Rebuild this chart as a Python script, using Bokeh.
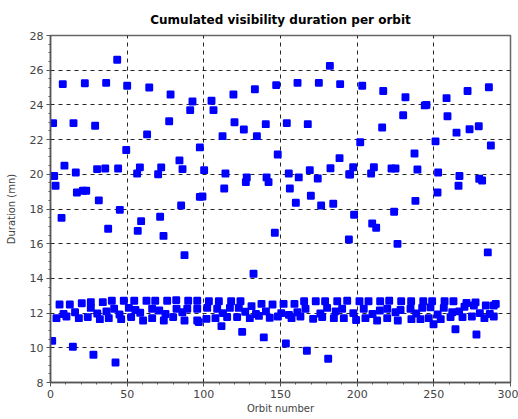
from bokeh.plotting import figure
from bokeh.models import SingleIntervalTicker, Range1d
from bokeh.embed import file_html
from bokeh.resources import INLINE

# Orbits with a long cumulated visibility (above the main band)
high_orbit = [43.5, 8.0, 22.4, 36.3, 50.0, 64.4, 78.3, 92.6, 91.1, 1.7, 15.0, 29.1, 77.4, 63.0,
              97.4, 49.4, 84.1, 86.1, 9.1, 16.5, 2.4, 30.4, 35.7, 44.1, 56.5, 58.3, 70.2, 72.2,
              3.3, 17.2, 21.1, 23.3, 31.5, 85.2, 97.4,
              182.2, 105.0, 106.3, 119.3, 133.3, 147.2, 161.1, 175.0, 188.9, 120.0, 126.1,
              140.4, 134.6, 112.2, 154.1, 167.8, 148.2, 188.5, 182.6, 100.2, 114.1, 128.0,
              127.4, 140.9, 142.2, 155.4, 161.9, 169.1, 174.3, 194.8, 113.3, 156.1, 99.1,
              160.0, 169.8, 176.5, 184.4,
              203.3, 217.0, 231.5, 244.1, 245.2, 258.3, 272.0, 285.9, 230.0, 258.9, 216.3,
              264.8, 273.3, 279.3, 202.0, 251.1, 287.2, 237.4, 197.4, 195.4, 210.9, 209.1,
              222.4, 225.0, 239.3, 252.8, 266.7, 279.6, 281.5, 266.1, 252.4, 238.0,
              7.2, 45.2, 37.6, 59.1, 56.9, 71.5, 73.7, 87.4, 146.3, 132.4, 194.6,
              198.0, 209.8, 212.4, 224.1, 226.3, 285.2]
high_duration = [26.6, 25.2, 25.25, 25.27, 25.1, 25.0, 24.6, 24.2, 23.7, 22.95, 22.95, 22.8, 23.06, 22.3,
                 21.55, 21.4, 20.8, 20.3, 20.5, 20.1, 19.9, 20.3, 20.33, 20.33, 20.05, 20.4, 20.0, 20.4,
                 19.34, 18.95, 19.05, 19.05, 18.5, 18.2, 18.7,
                 26.25, 24.24, 23.7, 24.6, 24.9, 25.14, 25.27, 25.27, 25.2, 23.0, 22.58,
                 22.89, 22.2, 22.2, 22.95, 22.89, 21.14, 20.93, 20.35, 20.24, 20.05, 19.82,
                 19.55, 19.82, 19.55, 20.05, 19.82, 20.24, 19.76, 20.0, 19.18, 19.18, 18.72,
                 18.36, 18.76, 18.2, 18.3,
                 25.1, 24.8, 24.44, 23.97, 24.0, 24.39, 24.8, 25.02, 23.4, 23.35, 22.7,
                 22.4, 22.6, 22.77, 21.85, 21.9, 21.66, 21.2, 20.41, 19.99, 20.41, 20.05,
                 20.33, 20.33, 20.28, 20.1, 19.9, 19.74, 19.64, 19.34, 18.95, 18.47,
                 17.49, 17.95, 16.86, 17.3, 16.74, 17.55, 16.45, 15.34, 16.63, 14.27, 16.24,
                 17.67, 17.16, 16.92, 17.84, 15.99, 15.5]

# Orbits inside the main band (about 11.4 to 12.8 mn)
band_orbit = [5.9, 12.6, 20.4, 26.3, 34.1, 40.0, 47.8, 54.6, 62.6, 68.3, 76.1, 82.0, 89.8, 95.7,
              26.3, 41.5, 51.1, 55.4, 66.3, 70.9, 82.2, 89.2, 95.7,
              3.9, 10.4, 18.5, 24.3, 32.2, 38.0, 46.1, 52.6, 60.4, 66.3, 73.9, 80.0, 87.4, 95.7,
              103.3, 109.8, 117.8, 123.9, 131.1, 137.6, 144.8, 152.0, 159.1, 165.4, 173.0, 179.1,
              187.0, 193.5,
              102.2, 108.7, 117.0, 122.8, 166.3, 180.4, 190.2,
              101.7, 107.6, 115.2, 121.7, 130.0, 135.9, 143.0, 148.3, 157.2, 163.0, 171.3, 177.2,
              184.8, 191.3, 96.7,
              201.5, 207.4, 215.0, 220.9, 228.7, 235.2, 243.1, 248.9, 257.0, 262.8, 271.3, 277.2,
              283.9, 290.4,
              204.3, 214.8, 219.6, 228.3, 234.8, 242.4, 247.8, 256.5, 270.0, 276.1, 289.1,
              199.3, 205.4, 213.0, 219.6, 226.5, 235.4, 241.3, 246.7, 249.8, 254.5, 260.9, 268.7,
              274.8, 283.0, 289.1,
              # second middle row, between the upper and lower rows
              8.5, 16.0, 30.5, 36.5, 45.0, 58.5, 75.0, 86.0, 112.5, 127.0, 134.0, 140.5,
              150.5, 155.5, 161.0, 176.0, 186.0, 197.5, 210.0, 225.0, 238.5, 252.5, 262.0,
              266.5, 280.0, 286.5]
band_duration = [12.5, 12.5, 12.57, 12.63, 12.63, 12.71, 12.71, 12.71, 12.71, 12.71, 12.71, 12.75, 12.71, 12.71,
                 12.3, 12.25, 12.3, 12.18, 12.25, 12.15, 12.25, 12.25, 12.25,
                 11.71, 11.8, 11.71, 11.77, 11.65, 11.71, 11.65, 11.77, 11.57, 11.71, 11.57, 11.77, 11.57, 11.57,
                 12.68, 12.68, 12.68, 12.68, 12.4, 12.53, 12.5, 12.53, 12.53, 12.68, 12.68, 12.68,
                 12.68, 12.71,
                 12.3, 12.25, 12.3, 12.3, 12.25, 12.3, 12.25,
                 11.67, 11.71, 11.77, 11.77, 11.71, 11.84, 11.73, 11.8, 11.71, 11.8, 11.67, 11.77,
                 11.71, 11.71, 11.48,
                 12.68, 12.68, 12.68, 12.71, 12.68, 12.68, 12.68, 12.68, 12.68, 12.68, 12.58, 12.62,
                 12.44, 12.53,
                 12.25, 12.15, 12.25, 12.18, 12.25, 12.3, 12.33, 12.3, 12.37, 12.44, 12.44,
                 11.6, 11.71, 11.57, 11.71, 11.57, 11.65, 11.65, 11.71, 11.36, 11.65, 11.77, 11.77,
                 11.8, 11.71, 11.8,
                 11.95, 12.05, 11.98, 12.1, 11.92, 12.02, 11.95, 12.05, 12.0, 12.08, 11.95, 12.1,
                 12.0, 11.9, 12.05, 11.98, 12.1, 12.0, 11.95, 12.05, 11.98, 11.92, 12.05,
                 12.1, 12.0, 11.95]

# Orbits with a short cumulated visibility (below the main band)
low_orbit = [1.1, 14.6, 28.0, 42.4, 111.5, 125.0, 139.1, 153.5, 167.2, 181.1, 264.1, 277.8]
low_duration = [10.4, 10.06, 9.6, 9.15, 11.25, 10.92, 10.6, 10.25, 9.83, 9.37, 11.07, 10.77]

orbit = high_orbit + band_orbit + low_orbit
duration = high_duration + band_duration + low_duration

FONT = "DejaVu Sans"

p = figure(width=518, height=419, output_backend="svg", toolbar_location=None,
           x_range=Range1d(0, 300), y_range=Range1d(8, 28),
           title="Cumulated visibility duration per orbit")
p.min_border_left = 50
p.min_border_right = 8
p.min_border_top = 35
p.min_border_bottom = 37

p.title.align = "center"
p.title.text_font = FONT
p.title.text_font_size = "12px"
p.title.text_font_style = "bold"
p.title.text_color = "#000000"
p.title.standoff = 18

p.outline_line_color = "#666666"
p.outline_line_width = 1.5

p.xaxis.ticker = SingleIntervalTicker(interval=50, num_minor_ticks=5)
p.yaxis.ticker = SingleIntervalTicker(interval=2, num_minor_ticks=4)

for ax in (p.xaxis[0], p.yaxis[0]):
    ax.axis_line_color = "#555555"
    ax.axis_line_width = 1.5
    ax.major_tick_line_color = "#555555"
    ax.minor_tick_line_color = "#555555"
    ax.major_tick_in = 0
    ax.major_tick_out = 4
    ax.minor_tick_in = 0
    ax.minor_tick_out = 2
    ax.major_label_text_font = FONT
    ax.major_label_text_font_size = "11px"
    ax.major_label_text_color = "#444444"
    ax.axis_label_text_font = FONT
    ax.axis_label_text_font_size = "10px"
    ax.axis_label_text_font_style = "normal"
    ax.axis_label_text_color = "#444444"

p.xaxis.axis_label = "Orbit number"
p.yaxis.axis_label = "Duration (mn)"
p.xaxis.major_label_standoff = 3
p.xaxis.axis_label_standoff = 2
p.yaxis.major_label_standoff = 3
p.yaxis.axis_label_standoff = 10

p.grid.grid_line_color = "#000000"
p.grid.grid_line_dash = "4 4"
p.grid.grid_line_width = 1
p.grid.grid_line_alpha = 0.85

# rounded square markers
p.scatter(orbit, duration, marker="square", size=5.5, fill_color="#0000ff",
          line_color="#0000ff", line_width=2.4, line_join="round")

open("out.html", "w").write(file_html(p, INLINE))
